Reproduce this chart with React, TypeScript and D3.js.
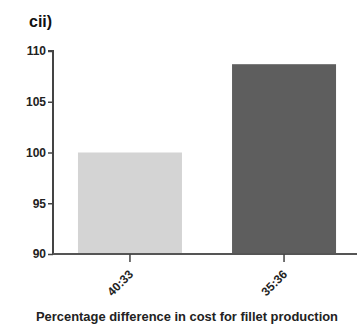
import { useEffect, useRef } from "react";
import * as d3 from "d3";

const categories = ["40:33", "35:36"];
const values = [100, 108.7];
const barColors = ["#d4d4d4", "#5e5e5e"];
const yTicks = [90, 95, 100, 105, 110];

const W = 357;
const H = 328;

export default function App() {
  const ref = useRef<SVGSVGElement>(null);

  useEffect(() => {
    const svg = d3.select(ref.current);
    svg.selectAll("*").remove();

    const font = "'Liberation Sans', Arial, sans-serif";

    // scales
    const x = d3
      .scaleBand()
      .domain(categories)
      .range([53, 361])
      .paddingInner(0.325)
      .paddingOuter(0.162);

    const y = d3.scaleLinear().domain([90, 110]).range([254, 51]);

    // bars
    svg
      .append("g")
      .selectAll("rect")
      .data(values)
      .enter()
      .append("rect")
      .attr("x", (d, i) => x(categories[i]))
      .attr("y", (d) => y(d))
      .attr("width", x.bandwidth())
      .attr("height", (d) => y(90) - y(d))
      .attr("fill", (d, i) => barColors[i]);

    // y axis
    const yAxis = svg
      .append("g")
      .attr("transform", "translate(53,0)")
      .call(d3.axisLeft(y).tickValues(yTicks).tickSize(5).tickPadding(2));
    yAxis.select(".domain").attr("stroke", "#444").attr("stroke-width", 2).attr("d", `M-5,${y(110)}H0V${y(90)}`);
    yAxis.selectAll(".tick line").attr("stroke", "#444").attr("stroke-width", 1.5);
    yAxis
      .selectAll(".tick text")
      .attr("font-family", font)
      .attr("font-weight", "bold")
      .attr("font-size", 12)
      .attr("fill", "#222");

    // x axis
    const xAxis = svg
      .append("g")
      .attr("transform", `translate(0,${y(90)})`)
      .call(d3.axisBottom(x).tickSize(8).tickPadding(4));
    xAxis.select(".domain").attr("stroke", "#555").attr("stroke-width", 2).attr("d", `M53,0H${W}`);
    xAxis.selectAll(".tick line").attr("stroke", "#444").attr("stroke-width", 1.5);
    xAxis
      .selectAll(".tick text")
      .attr("font-family", font)
      .attr("font-weight", "bold")
      .attr("font-size", 12)
      .attr("fill", "#222")
      .attr("text-anchor", "end")
      .attr("dy", "0.35em")
      .attr("transform", "translate(1,18) rotate(-45)")
      .attr("y", 0)
      .attr("x", 0);

    // title
    svg
      .append("text")
      .attr("x", 29)
      .attr("y", 27)
      .attr("font-family", font)
      .attr("font-weight", "bold")
      .attr("font-size", 16)
      .attr("fill", "#111")
      .text("cii)");

    // x axis title
    svg
      .append("text")
      .attr("x", 187)
      .attr("y", 321)
      .attr("text-anchor", "middle")
      .attr("font-family", font)
      .attr("font-weight", "bold")
      .attr("font-size", 12.5)
      .attr("textLength", 302)
      .attr("lengthAdjust", "spacingAndGlyphs")
      .attr("fill", "#222")
      .text("Percentage difference in cost for fillet production");
  }, []);

  return (
    <svg
      ref={ref}
      width={W}
      height={H}
      style={{ position: "absolute", left: 0, top: 0, background: "#fff" }}
    />
  );
}
